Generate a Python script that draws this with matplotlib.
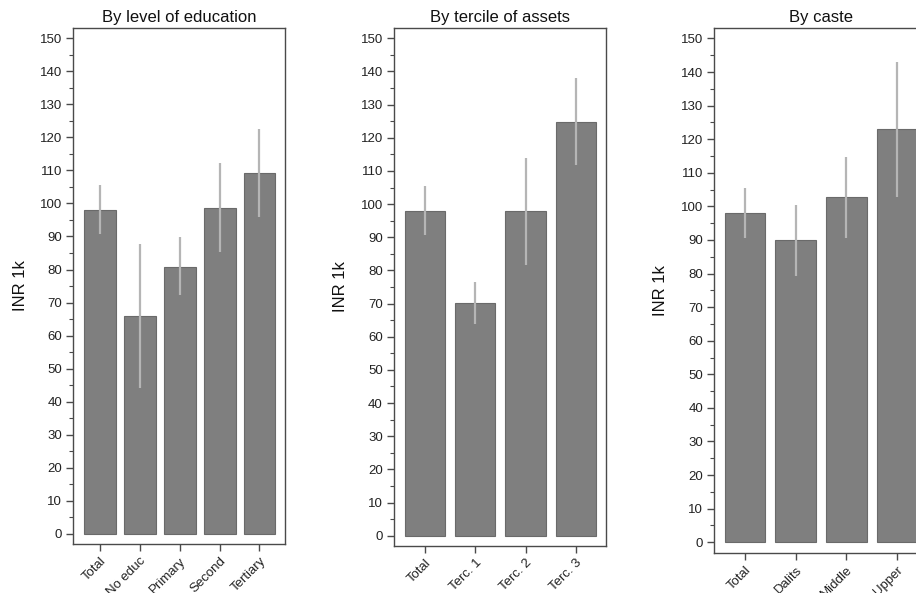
"""Mean value (INR 1k) by education, asset tercile and caste, with confidence bars."""
import matplotlib
matplotlib.use("Agg")
import matplotlib.pyplot as plt
from matplotlib.ticker import MultipleLocator

plt.rcParams["font.family"] = ["Liberation Sans", "DejaVu Sans"]

# By level of education
educ_labels = ["Total", "No educ", "Primary", "Second", "Tertiary"]
educ_mean = [98.0, 66.0, 80.9, 98.6, 109.2]
educ_low = [90.7, 44.2, 72.3, 85.3, 96.0]
educ_high = [105.6, 87.7, 89.7, 112.2, 122.5]

# By tercile of assets
assets_labels = ["Total", "Terc. 1", "Terc. 2", "Terc. 3"]
assets_mean = [98.0, 70.1, 97.8, 124.9]
assets_low = [90.7, 63.7, 81.5, 111.8]
assets_high = [105.5, 76.6, 113.9, 138.0]

# By caste
caste_labels = ["Total", "Dalits", "Middle", "Upper"]
caste_mean = [98.0, 89.9, 102.7, 122.9]
caste_low = [90.7, 79.3, 90.7, 102.7]
caste_high = [105.4, 100.5, 114.8, 143.0]

BAR = "#7f7f7f"
EDGE = "#6a6a6a"
ERR = "#b5b5b5"
SPINE = "#4a4a4a"


def draw_panel(ax, title, labels, mean, low, high, xlim):
    x = list(range(len(labels)))
    ax.bar(x, mean, width=0.8, color=BAR, edgecolor=EDGE, linewidth=0.8, zorder=2)
    ax.vlines(x, low, high, color=ERR, linewidth=1.6, zorder=3)
    ax.set_xlim(*xlim)
    ax.set_ylim(-3.1, 153.2)
    ax.yaxis.set_major_locator(MultipleLocator(10))
    ax.yaxis.set_minor_locator(MultipleLocator(5))
    ax.set_xticks(x)
    ax.set_xticklabels(labels, rotation=45, ha="right", rotation_mode="anchor")
    ax.tick_params(axis="both", which="major", length=5, width=1, color=SPINE,
                   labelsize=9.5, labelcolor="#222222", pad=3)
    ax.tick_params(axis="y", which="minor", length=3, width=0.8, color=SPINE)
    for s in ax.spines.values():
        s.set_color(SPINE)
        s.set_linewidth(1.0)
    ax.set_title(title, fontsize=12, color="#111111", pad=4)
    ax.set_ylabel("INR 1k", fontsize=12, color="#111111")
    ax.yaxis.set_label_coords(-0.215, 0.5)


fig = plt.figure(figsize=(9.16, 5.93), dpi=100)
ax1 = fig.add_axes([0.0800, 0.0826, 0.2311, 0.8707])
ax2 = fig.add_axes([0.4301, 0.0793, 0.2314, 0.8740])
ax3 = fig.add_axes([0.7798, 0.0680, 0.2330, 0.8853])

draw_panel(ax1, "By level of education", educ_labels, educ_mean, educ_low, educ_high, (-0.67, 4.64))
draw_panel(ax2, "By tercile of assets", assets_labels, assets_mean, assets_low, assets_high, (-0.62, 3.60))
draw_panel(ax3, "By caste", caste_labels, caste_mean, caste_low, caste_high, (-0.61, 3.61))

fig.savefig("out.png", dpi=100)
